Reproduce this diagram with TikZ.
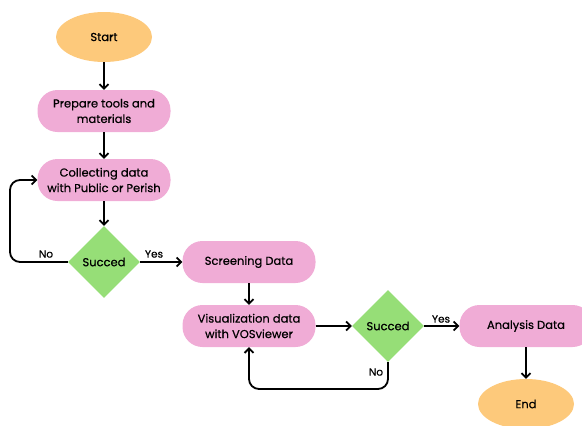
\documentclass[tikz,border=0pt]{standalone}
\usepackage{fontspec}
\setmainfont{Poppins}[FakeBold=0.5]
\usetikzlibrary{shapes.geometric,arrows.meta}
\definecolor{orng}{HTML}{FDC97B}
\definecolor{pnk}{HTML}{F0ACD6}
\definecolor{grn}{HTML}{96DE77}
\tikzset{
  term/.style={ellipse,fill=orng,minimum width=96pt,minimum height=50pt,inner sep=0pt,font=\fontsize{11.5}{12}\selectfont},
  proc/.style={rounded corners=20pt,fill=pnk,minimum width=133pt,minimum height=42pt,inner sep=0pt,align=center,font=\fontsize{11.5}{15.5}\selectfont},
  dec/.style={diamond,fill=grn,minimum width=72pt,minimum height=72pt,inner sep=0pt,font=\fontsize{11.5}{12}\selectfont},
  conn/.style={line width=1.8pt,-{Straight Barb[length=4.5pt,width=9pt]},rounded corners=10pt},
  lbl/.style={font=\fontsize{10.5}{12}\selectfont,inner sep=1pt}
}
\begin{document}
\begin{tikzpicture}[x=1pt,y=-1pt]
\useasboundingbox (0,0) rectangle (582,426);
\node[term] (start) at (104,37) {Start};
\node[proc] (prep) at (104,111) {Prepare tools and\\materials};
\node[proc] (coll) at (104,180) {Collecting data\\with Public or Perish};
\node[dec] (d1) at (104,262) {Succed};
\node[proc] (scr) at (249,262) {Screening Data};
\node[proc] (vis) at (249,326) {Visualization data\\with VOSviewer};
\node[dec] (d2) at (388,326) {Succed};
\node[proc] (ana) at (526,326) {Analysis Data};
\node[term] (end) at (526,404) {End};
\coordinate (l1a) at (10,262);
\coordinate (l1b) at (10,180);
\coordinate (l2a) at (388,389);
\coordinate (l2b) at (249,389);
\draw[conn] (start) -- (prep);
\draw[conn] (prep) -- (coll);
\draw[conn] (coll) -- (d1);
\draw[conn] (d1.west) -- (l1a) -- (l1b) -- (coll.west);
\draw[conn] (d1.east) -- (scr.west);
\draw[conn] (scr) -- (vis);
\draw[conn] (vis.east) -- (d2.west);
\draw[conn] (d2.south) -- (l2a) -- (l2b) -- (vis.south);
\draw[conn] (d2.east) -- (ana.west);
\draw[conn] (ana) -- (end);
\node[lbl] (no1) at (46,254) {No};
\node[lbl] (yes1) at (154,254) {Yes};
\node[lbl] (no2) at (376,372) {No};
\node[lbl] (yes2) at (441,319) {Yes};
\end{tikzpicture}
\end{document}
